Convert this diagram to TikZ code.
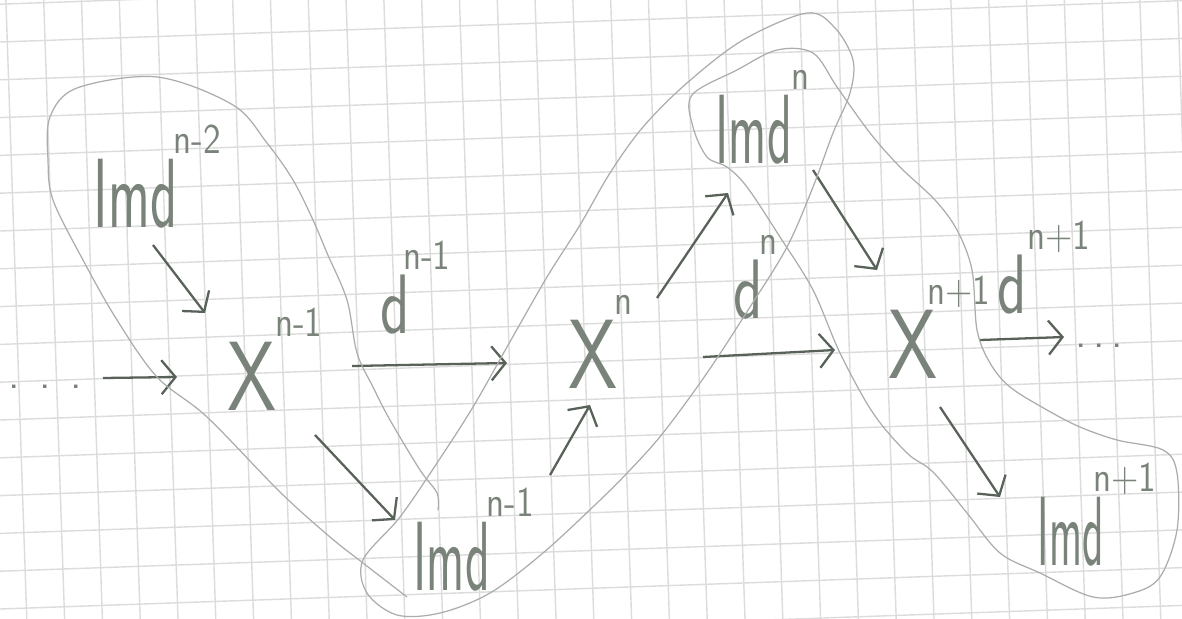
\documentclass[tikz,border=0pt]{standalone}
\usepackage{graphicx}
\usetikzlibrary{arrows.meta}
\definecolor{pencil}{HTML}{7A837A}
\definecolor{lead}{HTML}{596259}
\definecolor{faint}{HTML}{AAAEAA}
\definecolor{paper}{HTML}{DCDCDC}
% squeezed letter with a raised index
\newcommand\lab[4][-1pt]{\scalebox{#2}[1]{#3}\kern#1\raisebox{0.75em}{\scalebox{0.85}[1]{\fontsize{12}{12}\selectfont #4}}}
\newcommand\trail[1]{.\kern#1.\kern#1.}

\begin{document}
\begin{tikzpicture}[x=0.01cm, y=-0.01cm,
  every node/.style={inner sep=0pt, anchor=base west, text=pencil},
  obj/.style={font=\fontsize{28}{28}\selectfont\sffamily},
  mor/.style={font=\fontsize{24}{24}\selectfont\sffamily},
  pt/.style={font=\fontsize{12}{12}\selectfont\sffamily},
  arr/.style={draw=lead, line width=0.65pt, -{Straight Barb[length=1.4mm,width=3.4mm]}},
  ses/.style={draw=faint, line width=0.35pt, smooth, tension=0.55}]
\fill[white] (0,0) rectangle (1182,618);
\useasboundingbox (0,0) rectangle (1182,618);
% squared paper
\begin{scope}
\clip (0,0) rectangle (1182,618);
\foreach \k in {-2,...,32} \draw[paper, line width=0.4pt] (43+37.8*\k,-20) -- (43+37.8*\k+22.3,640);
\foreach \k in {-2,...,19} \draw[paper, line width=0.4pt] (-20,42+37.8*\k+0.7) -- (1200,42+37.8*\k-42);
\end{scope}
% objects
\node[pt]  (dotsL) at (8,388)    {\trail{5.5pt}};
\node[obj] (imdA)  at (93,227)   {\lab{0.57}{Imd}{n-2}};
\node[obj] (xA)    at (227,410)  {\lab[-0.5pt]{0.8}{X}{n-1}};
\node[mor] (dA)    at (380,333)  {\lab[-2pt]{0.72}{d}{n-1}};
\node[obj] (imdB)  at (413,590)  {\lab{0.52}{Imd}{n-1}};
\node[obj] (xB)    at (568,388)  {\lab{0.8}{X}{n}};
\node[mor] (dB)    at (733,318)  {\lab{0.72}{d}{n}};
\node[obj] (imdC)  at (715,163)  {\lab[0pt]{0.52}{Imd}{n}};
\node[obj] (xC)    at (888,378)  {\lab[-3pt]{0.8}{X}{n+1}};
\node[mor] (dC)    at (997,313)  {\lab[0pt]{0.72}{d}{n+1}};
\node[pt]  (dotsR) at (1075,347) {\trail{1.8pt}};
\node[obj] (imdD)  at (1037,565) {\lab[-3pt]{0.45}{Imd}{n+1}};
% maps
\draw[arr] ([shift={(95,-10)}]dotsL.base west) -- ([shift={(-50,-33)}]xA.base west);
\draw[arr] ([shift={(60,18)}]imdA.base west) -- ([shift={(-22,-97)}]xA.base west);
\draw[arr] ([shift={(125,-44)}]xA.base west) -- ([shift={(-61,-25)}]xB.base west);
\draw[arr] ([shift={(88,25)}]xA.base west) -- ([shift={(-18,-70)}]imdB.base west);
\draw[arr] ([shift={(137,-115)}]imdB.base west) -- ([shift={(22,17)}]xB.base west);
\draw[arr] ([shift={(135,-31)}]xB.base west) -- ([shift={(-53,-28)}]xC.base west);
\draw[arr] ([shift={(89,-90)}]xB.base west) -- ([shift={(13,30)}]imdC.base west);
\draw[arr] ([shift={(98,7)}]imdC.base west) -- ([shift={(-11,-108)}]xC.base west);
\draw[arr] ([shift={(92,-38)}]xC.base west) -- ([shift={(-11,-10)}]dotsR.base west);
\draw[arr] ([shift={(52,29)}]xC.base west) -- ([shift={(-37,-68)}]imdD.base west);
% short exact pieces
\draw[ses] plot coordinates {(438,510) (437,493) (420,470) (390,420) (373,387) (357,353) (347,300) (327,253) (313,220) (293,180) (267,143) (233,105) (157,77) (77,88) (50,117) (48,160) (53,200) (83,260) (117,320) (157,377) (207,417) (280,492) (330,537) (363,563) (407,597)};
\draw[ses] plot[smooth cycle] coordinates {(400,517) (437,463) (473,407) (507,347) (547,277) (580,225) (610,173) (643,127) (687,83) (743,40) (807,13) (835,28) (853,60) (850,93) (833,133) (813,187) (787,247) (750,307) (707,373) (663,433) (630,470) (597,503) (543,553) (490,593) (440,613) (397,615) (367,593) (363,560)};
\draw[ses] plot[smooth cycle] coordinates {(692,95) (737,70) (777,50) (813,53) (837,87) (870,133) (900,167) (935,200) (957,230) (972,270) (977,330) (990,363) (1010,387) (1047,410) (1080,427) (1117,440) (1163,450) (1177,473) (1177,530) (1160,577) (1133,593) (1093,597) (1040,573) (1000,553) (967,513) (933,472) (907,453) (873,413) (840,353) (813,290) (780,237) (747,187) (727,167) (707,157) (693,127)};
\end{tikzpicture}
\end{document}
